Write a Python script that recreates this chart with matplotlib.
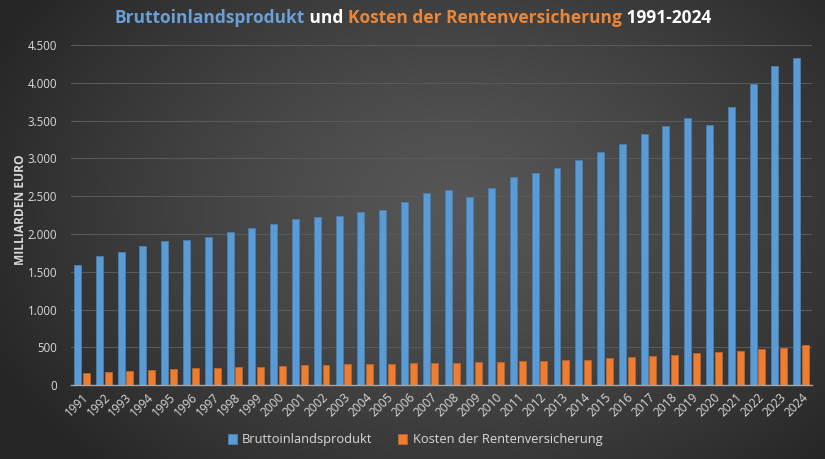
import numpy as np
import matplotlib
matplotlib.use("Agg")
import matplotlib.pyplot as plt

years = [str(y) for y in range(1991, 2025)]
bip = [1592, 1711, 1760, 1840, 1906, 1927, 1967, 2029, 2082, 2135,
       2201, 2227, 2243, 2294, 2324, 2426, 2545, 2589, 2492, 2615,
       2748, 2801, 2872, 2982, 3088, 3188, 3329, 3430, 3536, 3448,
       3677, 3990, 4216, 4325]
rente = [159, 176, 185, 198, 212, 225, 233, 242, 246, 255,
         269, 273, 282, 286, 286, 291, 295, 295, 308, 312,
         317, 321, 330, 339, 357, 370, 392, 401, 423, 441,
         458, 480, 498, 533]
yticks = [0, 500, 1000, 1500, 2000, 2500, 3000, 3500, 4000, 4500]
ytick_labels = ["0", "500", "1.000", "1.500", "2.000", "2.500", "3.000", "3.500", "4.000", "4.500"]

BLUE = "#5b9bd5"
ORANGE = "#ed7d31"
TXT = "#d9d9d9"

plt.rcParams['font.family'] = ['Open Sans', 'DejaVu Sans']

W, H = 825, 459
fig = plt.figure(figsize=(W / 100, H / 100), dpi=100)

# radial gradient background
bg = fig.add_axes([0, 0, 1, 1], zorder=-10)
yy, xx = np.mgrid[0:H, 0:W]
cx, cy = W * 0.55, H * 0.45
r = np.sqrt(((xx - cx) / (W * 0.62)) ** 2 + ((yy - cy) / (H * 0.8)) ** 2)
r = np.clip(r, 0, 1)
c0, c1 = 0x56 / 255, 0x26 / 255
val = c0 + (c1 - c0) * r ** 1.3
img = np.dstack([val, val, val])
bg.imshow(img, aspect='auto', extent=[0, 1, 0, 1])
bg.set_axis_off()

ax = fig.add_axes([71 / W, 1 - 385.3 / H, (812 - 71) / W, (385.3 - 45) / H])
ax.set_facecolor("none")
x = np.arange(len(years))
bw = 0.32
ax.bar(x - 0.2, bip, width=bw, color=BLUE, edgecolor="#4a7fb0", linewidth=0.6, zorder=3)
ax.bar(x + 0.2, rente, width=bw, color=ORANGE, edgecolor="#c0632a", linewidth=0.6, zorder=3)

ax.set_xlim(-0.5, len(years) - 0.5)
ax.set_ylim(0, 4500)
ax.set_yticks(yticks)
ax.set_yticklabels(ytick_labels, color=TXT, fontsize=8.3)
ax.set_xticks(x)
ax.set_xticklabels(years, rotation=45, ha='right', va='top', rotation_mode='anchor',
                   color=TXT, fontsize=8.6)
ax.tick_params(axis='both', length=0)
ax.tick_params(axis='y', pad=10)
ax.tick_params(axis='x', pad=4)
ax.grid(axis='y', color="#5a5a5a", linewidth=0.8, zorder=0)
for s in ['top', 'right', 'left']:
    ax.spines[s].set_visible(False)
ax.spines['bottom'].set_color("#a6a6a6")
ax.spines['bottom'].set_linewidth(1.0)
ax.spines['bottom'].set_zorder(4)

fig.text(20.5 / W, 1 - 210 / H, "MILLIARDEN EURO", rotation=90, ha='center', va='center',
         color=TXT, fontsize=8.6, fontweight='bold')

# Legend
lg = ax.legend(["Bruttoinlandsprodukt", "Kosten der Rentenversicherung"],
               loc='center', bbox_to_anchor=(415 / W, 1 - 440 / H), bbox_transform=fig.transFigure,
               ncol=2, frameon=False, fontsize=9.3, handlelength=0.7, handleheight=0.7,
               handletextpad=0.4, columnspacing=2.0, labelcolor=TXT)

# multi-coloured title
parts = [("Bruttoinlandsprodukt", "#6a9fd8"), (" und ", "#ffffff"),
         ("Kosten der Rentenversicherung", "#e8873a"), (" 1991-2024", "#ffffff")]
fig.canvas.draw()
rend = fig.canvas.get_renderer()
texts = []
widths = []
for s, c in parts:
    t = fig.text(0, 1 - 18 / H, s, color=c, fontsize=12.5, fontweight='bold', ha='left', va='center')
    texts.append(t)
    widths.append(t.get_window_extent(rend).width)
total = sum(widths)
xs = 413 - total / 2
for t, w in zip(texts, widths):
    t.set_x(xs / W)
    xs += w

fig.savefig("out.png", dpi=100)
